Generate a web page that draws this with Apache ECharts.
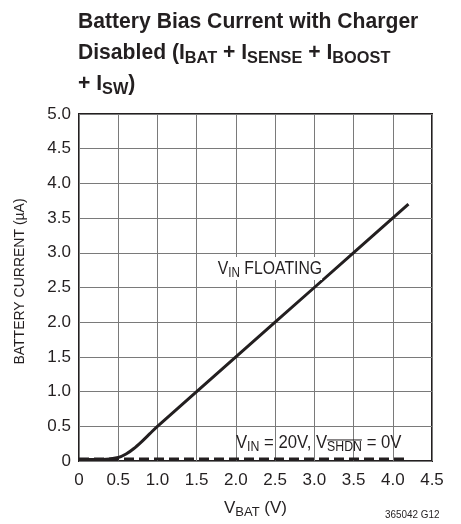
<!DOCTYPE html>
<html>
<head>
<meta charset="utf-8">
<script src="https://cdn.jsdelivr.net/npm/echarts@6/dist/echarts.min.js"></script>
<style>
  * { margin: 0; padding: 0; }
  body { background: #fff; }
  #main { width: 461px; height: 524px; }
</style>
</head>
<body>
<div id="main"></div>
<script>
  // data
  var vbat = [0, 0.3, 0.5, 0.6, 0.7, 0.8, 0.9, 1.0, 2.0, 3.0, 4.2];
  var currentFloating = [0.02, 0.02, 0.05, 0.1, 0.18, 0.28, 0.39, 0.5, 1.5, 2.5, 3.7];
  var vbatShdn = [0, 4.2];
  var currentShdn = [0.03, 0.03];
  var xTicks = ['0', '0.5', '1.0', '1.5', '2.0', '2.5', '3.0', '3.5', '4.0', '4.5'];
  var yTicks = ['0', '0.5', '1.0', '1.5', '2.0', '2.5', '3.0', '3.5', '4.0', '4.5', '5.0'];

  var font = '"Liberation Sans", Arial, sans-serif';
  var ink = '#231f20';
  var chart = echarts.init(document.getElementById('main'));

  function pairs(xs, ys) {
    return xs.map(function (x, i) { return [x, ys[i]]; });
  }
  var sub = { s: { fontFamily: font, fontSize: 14, fill: ink, padding: [9, 0, 0, 0] } };

  chart.setOption({
    animation: false,
    grid: { left: 79, top: 114, width: 353, height: 349, show: true, borderColor: ink, borderWidth: 2 },
    xAxis: {
      type: 'value', min: 0, max: 4.5, interval: 0.5,
      name: 'V{s|BAT} (V)', nameLocation: 'middle', nameGap: 36,
      nameTextStyle: { fontFamily: font, fontSize: 17, color: ink,
        rich: { s: { fontFamily: font, fontSize: 13, color: ink, padding: [9, 0, 0, 0] } } },
      axisLine: { show: false }, axisTick: { show: false },
      splitLine: { lineStyle: { color: '#7a7a7a', width: 1 } },
      axisLabel: { fontFamily: font, fontSize: 17, color: ink, margin: 11,
        formatter: function (v) { return xTicks[Math.round(v / 0.5)]; } }
    },
    yAxis: {
      type: 'value', min: 0, max: 5, interval: 0.5,
      name: 'BATTERY CURRENT (µA)', nameLocation: 'middle', nameGap: 52, nameRotate: 90,
      nameTextStyle: { fontFamily: font, fontSize: 14, color: ink, padding: [0, 0, 0, 12] },
      axisLine: { show: false }, axisTick: { show: false },
      splitLine: { lineStyle: { color: '#7a7a7a', width: 1 } },
      axisLabel: { fontFamily: font, fontSize: 17, color: ink, margin: 8,
        formatter: function (v) { return yTicks[Math.round(v / 0.5)]; } }
    },
    series: [
      {
        type: 'line', data: pairs(vbat, currentFloating), smooth: 0.3, symbol: 'none',
        lineStyle: { color: ink, width: 3 }, z: 3
      },
      {
        type: 'line', data: pairs(vbatShdn, currentShdn), symbol: 'none',
        lineStyle: { color: ink, width: 3, type: [10, 5] }, z: 2
      }
    ]
  });

  // annotations placed through the axes, drawn slightly condensed
  var sx = 0.88;
  var p1 = chart.convertToPixel({ gridIndex: 0 }, [1.77, 2.765]);
  var p2 = chart.convertToPixel({ gridIndex: 0 }, [2.0, 0.26]);
  var ctx = document.createElement('canvas').getContext('2d');
  function tw(t, size) { ctx.font = size + 'px ' + font; return ctx.measureText(t).width; }
  var olX = p2[0] + (tw('V', 19) + tw('IN', 14) + tw(' = 20V, V', 19)) * sx;
  var olW = tw('SHDN', 14) * sx;

  chart.setOption({
    graphic: [
      {
        type: 'text', x: 78, y: 6, scaleX: 0.96,
        style: {
          text: 'Battery Bias Current with Charger\nDisabled (I{b|BAT} + I{b|SENSE} + I{b|BOOST}\n+ I{b|SW})',
          fontFamily: font, fontWeight: 'bold', fontSize: 22, lineHeight: 31, fill: ink,
          rich: { b: { fontFamily: font, fontWeight: 'bold', fontSize: 17, fill: ink, padding: [11, 0, 0, 0] } }
        }
      },
      {
        type: 'text', x: p1[0], y: p1[1] - 12, scaleX: 0.83, z: 10,
        style: {
          text: 'V{s|IN} FLOATING', fontFamily: font, fontSize: 19, fill: ink,
          backgroundColor: '#fff', rich: sub
        }
      },
      {
        type: 'text', x: p2[0], y: p2[1] - 12, scaleX: sx, z: 10,
        style: {
          text: 'V{s|IN} = 20V, V{s|SHDN} = 0V', fontFamily: font, fontSize: 19, fill: ink,
          rich: sub
        }
      },
      {
        type: 'line', z: 10,
        shape: { x1: olX, y1: p2[1] - 3, x2: olX + olW, y2: p2[1] - 3 },
        style: { stroke: ink, lineWidth: 1 }
      },
      {
        type: 'text', x: 385, y: 509, scaleX: 0.9,
        style: { text: '365042 G12', fontFamily: font, fontSize: 11, fill: ink }
      }
    ]
  });
</script>
</body>
</html>
